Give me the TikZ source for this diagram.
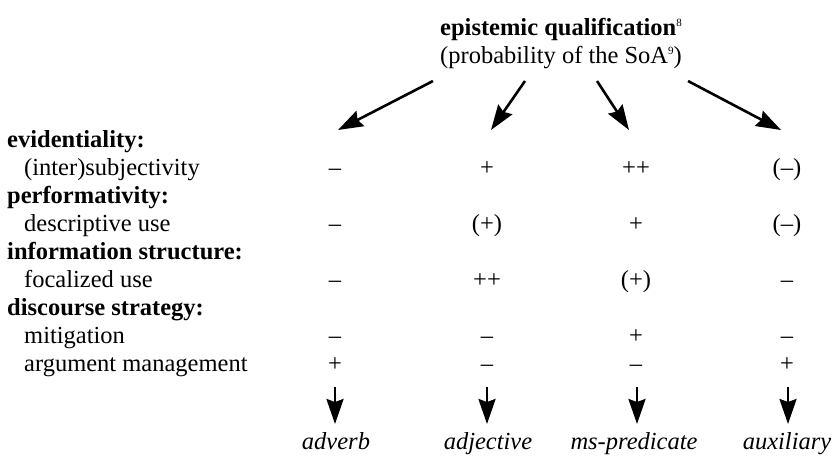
\documentclass[tikz,border=0pt]{standalone}
\usepackage{fontspec}
\setmainfont{Liberation Serif}
\usetikzlibrary{arrows.meta}
\newcommand{\tinysup}[1]{\raisebox{9pt}{\fontsize{11}{11}\selectfont\mdseries #1}}
\begin{document}
\begin{tikzpicture}[x=1pt,y=-1pt,
  every node/.style={inner sep=0pt, font=\fontsize{24.5}{28}\selectfont},
  lab/.style={anchor=base west},
  hd/.style={anchor=base west, font=\fontsize{24.5}{28}\selectfont\bfseries},
  val/.style={anchor=base},
  cat/.style={anchor=base, font=\fontsize{24.5}{28}\selectfont\itshape},
  arr/.style={line width=2.6pt, -{Stealth[length=25pt,width=17pt,inset=3pt]}}]
\useasboundingbox (0,0) rectangle (834,456);
% title
\node[val, font=\fontsize{24.5}{28}\selectfont\bfseries] (title) at (561,35) {epistemic qualification\tinysup{8}};
\node[val] (title2) at (561,63) {(probability of the SoA\tinysup{9})};
% top arrows
\coordinate (s1) at (433,81); \coordinate (t1) at (338,130);
\coordinate (s2) at (525,81); \coordinate (t2) at (491,130);
\coordinate (s3) at (597,81); \coordinate (t3) at (629,130);
\coordinate (s4) at (688,81); \coordinate (t4) at (781,130);
\draw[arr] (s1) -- (t1);
\draw[arr] (s2) -- (t2);
\draw[arr] (s3) -- (t3);
\draw[arr] (s4) -- (t4);
% row labels
\node[hd] (h1) at (7,147) {evidentiality:};
\node[lab] (r1) at (24,175) {(inter)subjectivity};
\node[hd] (h2) at (7,203) {performativity:};
\node[lab] (r2) at (24,231) {descriptive use};
\node[hd] (h3) at (7,259) {information structure:};
\node[lab] (r3) at (24,287) {focalized use};
\node[hd] (h4) at (7,315) {discourse strategy:};
\node[lab] (r4) at (24,343) {mitigation};
\node[lab] (r5) at (24,371) {argument management};
% values
\node[val] (v11) at (335,175) {–};
\node[val] (v12) at (487,175) {+};
\node[val] (v13) at (636,175) {++};
\node[val] (v14) at (787,175) {(–)};
\node[val] (v21) at (335,231) {–};
\node[val] (v22) at (487,231) {(+)};
\node[val] (v23) at (636,231) {+};
\node[val] (v24) at (787,231) {(–)};
\node[val] (v31) at (335,287) {–};
\node[val] (v32) at (487,287) {++};
\node[val] (v33) at (636,287) {(+)};
\node[val] (v34) at (787,287) {–};
\node[val] (v41) at (335,343) {–};
\node[val] (v42) at (487,343) {–};
\node[val] (v43) at (636,343) {+};
\node[val] (v44) at (787,343) {–};
\node[val] (v51) at (335,371) {+};
\node[val] (v52) at (487,371) {–};
\node[val] (v53) at (636,371) {–};
\node[val] (v54) at (787,371) {+};
% bottom categories
\node[cat] (c1) at (336,449) {adverb};
\node[cat] (c2) at (488,449) {adjective};
\node[cat] (c3) at (634,449) {ms-predicate};
\node[cat] (c4) at (787,449) {auxiliary};
\coordinate (b1) at (335,387); \coordinate (e1) at (335,424);
\coordinate (b2) at (487,387); \coordinate (e2) at (487,424);
\coordinate (b3) at (637,387); \coordinate (e3) at (637,424);
\coordinate (b4) at (788,387); \coordinate (e4) at (788,424);
\draw[arr] (b1) -- (e1);
\draw[arr] (b2) -- (e2);
\draw[arr] (b3) -- (e3);
\draw[arr] (b4) -- (e4);
\end{tikzpicture}
\end{document}
